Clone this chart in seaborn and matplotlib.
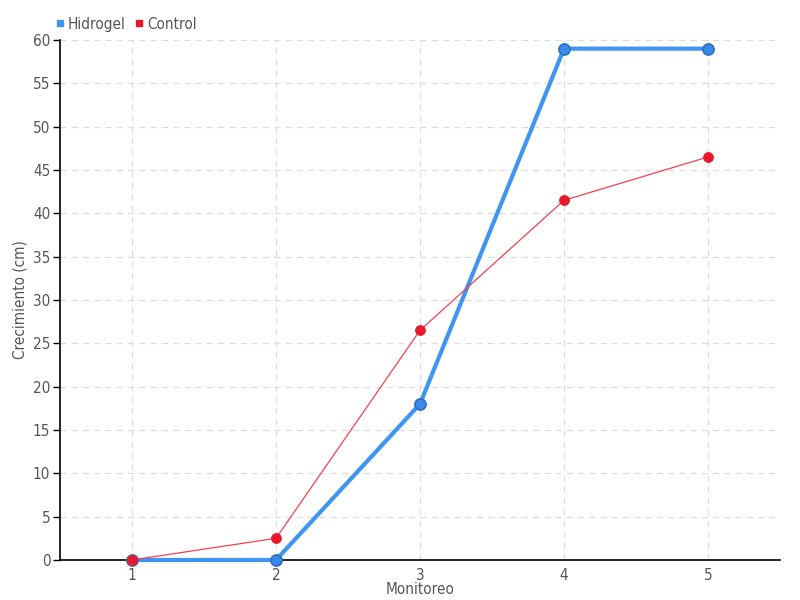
import matplotlib
matplotlib.use("Agg")
import matplotlib.pyplot as plt
import pandas as pd
import seaborn as sns
from matplotlib.lines import Line2D

monitoreo = [1, 2, 3, 4, 5]
hidrogel = [0, 0, 18, 59, 59]
control = [0, 2.5, 26.5, 41.5, 46.5]

sns.set_theme(style="white")
plt.rcParams["font.family"] = ["DejaVu Sans"]
plt.rcParams["font.stretch"] = "condensed"

df = pd.DataFrame({"Monitoreo": monitoreo, "Hidrogel": hidrogel, "Control": control})

fig = plt.figure(figsize=(8, 6), dpi=100)
ax = fig.add_axes([0.075, 0.0667, 0.9, 0.8667])

blue = "#3f95f2"
red = "#e8192c"

sns.lineplot(data=df, x="Monitoreo", y="Hidrogel", ax=ax, color=blue, lw=3,
             marker="o", markersize=8, markerfacecolor="#3a8be8",
             markeredgecolor="#2a6fc0", markeredgewidth=1.2, zorder=3,
             clip_on=False)
sns.lineplot(data=df, x="Monitoreo", y="Control", ax=ax, color="#f5404f", lw=0.9,
             marker="o", markersize=7, markerfacecolor=red,
             markeredgecolor=red, zorder=4, clip_on=False)

ax.set_xlim(0.5, 5.5)
ax.set_ylim(0, 60)
ax.set_xticks(monitoreo)
ax.set_yticks(range(0, 61, 5))
ax.grid(True, color="#dddddd", linestyle=(0, (5, 4)), linewidth=0.9)
ax.set_axisbelow(True)
for s in ["top", "right"]:
    ax.spines[s].set_visible(False)
for s in ["left", "bottom"]:
    ax.spines[s].set_color("black")
    ax.spines[s].set_linewidth(1.2)
ax.tick_params(axis="y", left=True, length=5, width=1, color="black",
               labelsize=11, labelcolor="#555555", pad=2)
ax.tick_params(axis="x", bottom=False, labelsize=11, labelcolor="#555555", pad=0)
ax.set_xlabel("Monitoreo", fontsize=11, color="#555555", labelpad=-1)
ax.set_ylabel("Crecimiento (cm)", fontsize=11, color="#555555", labelpad=4)

handles = [
    Line2D([], [], marker="s", linestyle="none", color=blue, markersize=5),
    Line2D([], [], marker="s", linestyle="none", color=red, markersize=5),
]
fig.legend(handles, ["Hidrogel", "Control"], loc="upper left",
           bbox_to_anchor=(0.05, 0.995), ncol=2, frameon=False, fontsize=11,
           handletextpad=0.1, columnspacing=0.5, handlelength=0.8,
           labelcolor="#555555")

fig.savefig("out.png", dpi=100)
